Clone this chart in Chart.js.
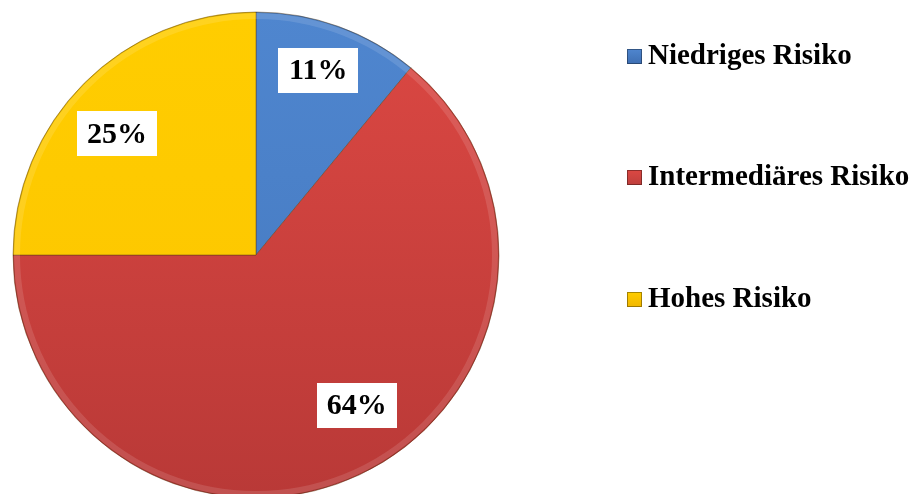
<!DOCTYPE html>
<html>
<head>
<meta charset="utf-8">
<script src="https://cdn.jsdelivr.net/npm/chart.js@4/dist/chart.umd.min.js"></script>
<style>
  html, body { margin: 0; padding: 0; background: #fff; }
  #wrap { width: 915px; height: 494px; position: relative; }
</style>
</head>
<body>
<div id="wrap"><canvas id="riskChart"></canvas></div>
<script>
// Risk groups and their share in percent
const categories = ["Niedriges Risiko", "Intermediäres Risiko", "Hohes Risiko"];
const shares = [11, 64, 25];

// slice colours: [light, dark] for a soft top-to-bottom shading
const sliceColors = [
  ["#4f86cf", "#4377bd"],
  ["#dc4843", "#b93937"],
  ["#ffcd00", "#fcc400"]
];
const legendMarkerColors = ["#3f70b4", "#c0403d", "#f2b800"];

const PIE_RADIUS = 243;
// where each value box sits, as fraction of the radius plus a small nudge
const labelFrac = 0.78;
const labelNudge = [[-2, -7], [20, -22], [-5, 12]];

function sliceFill(ctx) {
  const chart = ctx.chart;
  const area = chart.chartArea;
  if (!area) return sliceColors[ctx.dataIndex][0];
  const cy = (area.top + area.bottom) / 2;
  const g = chart.ctx.createLinearGradient(0, cy - PIE_RADIUS, 0, cy + PIE_RADIUS);
  g.addColorStop(0, sliceColors[ctx.dataIndex][0]);
  g.addColorStop(1, sliceColors[ctx.dataIndex][1]);
  return g;
}

// value boxes: white rectangle with bold percentage
const valueBoxes = {
  id: "valueBoxes",
  afterDatasetsDraw(chart) {
    const c = chart.ctx;
    const arcs = chart.getDatasetMeta(0).data;
    c.save();
    // soft bevel rim along the outer edge
    const a0 = arcs[0];
    c.beginPath();
    c.arc(a0.x, a0.y, PIE_RADIUS - 4, 0, Math.PI * 2);
    c.strokeStyle = "rgba(255,255,255,0.12)";
    c.lineWidth = 6;
    c.stroke();
    c.beginPath();
    c.arc(a0.x, a0.y, PIE_RADIUS - 0.5, 0, Math.PI * 2);
    c.strokeStyle = "rgba(0,0,0,0.12)";
    c.lineWidth = 1;
    c.stroke();

    c.font = "bold 30px 'Liberation Serif', 'Times New Roman', serif";
    c.textAlign = "center";
    c.textBaseline = "middle";
    arcs.forEach((arc, i) => {
      const mid = (arc.startAngle + arc.endAngle) / 2;
      const r = arc.outerRadius * labelFrac;
      const x = arc.x + Math.cos(mid) * r + labelNudge[i][0];
      const y = arc.y + Math.sin(mid) * r + labelNudge[i][1];
      c.fillStyle = "#fff";
      c.fillRect(Math.round(x - 40), Math.round(y - 22), 80, 45);
      c.fillStyle = "#000";
      c.fillText(shares[i] + "%", x, y + 2);
    });
    c.restore();
  }
};

// legend on the right side, one entry per risk group
const sideLegend = {
  id: "sideLegend",
  afterDraw(chart) {
    const c = chart.ctx;
    const rows = [56, 177, 299];
    c.save();
    c.font = "bold 29px 'Liberation Serif', 'Times New Roman', serif";
    c.textAlign = "left";
    c.textBaseline = "middle";
    categories.forEach((name, i) => {
      const y = rows[i];
      const x = 627;
      const g = c.createLinearGradient(0, y - 7, 0, y + 7);
      g.addColorStop(0, sliceColors[i][0]);
      g.addColorStop(1, legendMarkerColors[i]);
      c.fillStyle = g;
      c.fillRect(x, y - 7, 15, 15);
      c.strokeStyle = "rgba(0,0,0,0.35)";
      c.lineWidth = 1;
      c.strokeRect(x + 0.5, y - 6.5, 14, 14);
      c.fillStyle = "#000";
      c.fillText(name, 648, y + 1);
    });
    c.restore();
  }
};

new Chart(document.getElementById("riskChart"), {
  type: "pie",
  data: {
    labels: categories,
    datasets: [{
      data: shares,
      backgroundColor: sliceFill,
      borderColor: "rgba(90,60,20,0.45)",
      borderWidth: 1,
      radius: PIE_RADIUS
    }]
  },
  options: {
    responsive: true,
    maintainAspectRatio: false,
    animation: false,
    layout: { padding: { top: 16, right: 403, left: 0, bottom: 0 } },
    plugins: {
      legend: { display: false },
      tooltip: { enabled: false }
    }
  },
  plugins: [valueBoxes, sideLegend]
});
</script>
</body>
</html>
